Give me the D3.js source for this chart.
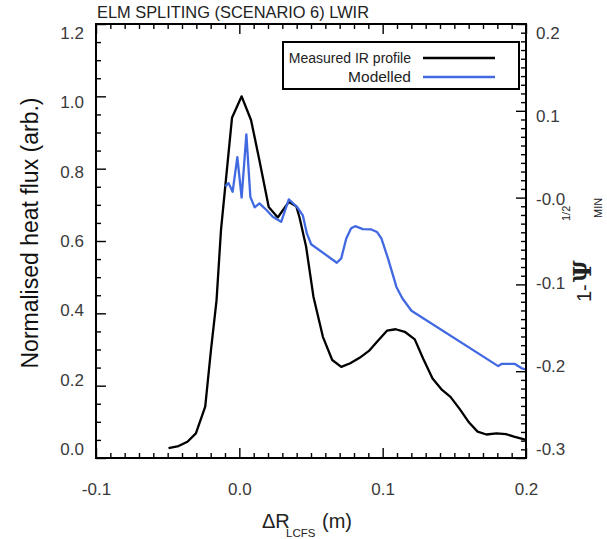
<!DOCTYPE html>
<html><head><meta charset="utf-8">
<script src="https://cdn.jsdelivr.net/npm/d3@7"></script>
<style>
body{margin:0;background:#fff}
svg{display:block}
text{font-family:"Liberation Sans",Arial,Helvetica,sans-serif}
</style>
</head><body>
<svg id="c" width="607" height="539"></svg>
<script>
// ---- data ----
const measuredX = [-0.0494,-0.0424,-0.0362,-0.0303,-0.0238,-0.0198,-0.0159,-0.0128,-0.0051,0.0016,0.0082,0.0140,0.0205,0.0268,0.0345,0.0397,0.0420,0.0466,0.0517,0.0583,0.0648,0.0711,0.0774,0.0839,0.0904,0.0967,0.1030,0.1091,0.1154,0.1224,0.1282,0.1348,0.1410,0.1473,0.1538,0.1603,0.1662,0.1724,0.1795,0.1860,0.1916,0.1981,0.2000];
const measuredY = [0.027,0.033,0.045,0.068,0.142,0.298,0.436,0.630,0.941,1.000,0.934,0.823,0.694,0.665,0.708,0.696,0.665,0.584,0.446,0.335,0.271,0.252,0.262,0.277,0.296,0.324,0.352,0.356,0.349,0.328,0.275,0.220,0.190,0.169,0.135,0.098,0.073,0.065,0.068,0.066,0.059,0.052,0.050];
const modelX = [-0.0098,-0.0075,-0.0047,-0.0014,0.0016,0.0049,0.0077,0.0107,0.0140,0.0191,0.0233,0.0292,0.0345,0.0403,0.0443,0.0471,0.0501,0.0680,0.0711,0.0746,0.0780,0.0808,0.0862,0.0921,0.0960,0.0991,0.1037,0.1096,0.1138,0.1201,0.1806,0.1829,0.1923,0.1970,0.2000];
const modelY = [0.751,0.760,0.736,0.832,0.720,0.895,0.722,0.693,0.704,0.685,0.667,0.653,0.715,0.694,0.671,0.621,0.591,0.540,0.552,0.607,0.635,0.641,0.633,0.632,0.625,0.607,0.552,0.473,0.441,0.407,0.254,0.260,0.260,0.248,0.245];

const xTickValues = [-0.1, 0.0, 0.1, 0.2];
const xTickLabels = ["-0.1", "0.0", "0.1", "0.2"];
const yTickValues = [0.0, 0.2, 0.4, 0.6, 0.8, 1.0, 1.2];
const yTickLabels = ["0.0", "0.2", "0.4", "0.6", "0.8", "1.0", "1.2"];
const y2TickValues = [-0.3, -0.2, -0.1, 0.0, 0.1, 0.2];
const y2TickLabels = ["-0.3", "-0.2", "-0.1", "-0.0", "0.1", "0.2"];
const seriesNames = ["Measured IR profile", "Modelled"];
const seriesColors = ["#000000", "#4169e1"];

// ---- layout ----
const L = 96, R = 526, T = 24, B = 458;
const svg = d3.select("#c");
const x = d3.scaleLinear().domain([-0.1, 0.2]).range([L, R]);
const y = d3.scaleLinear().domain([0, 1.2]).range([B, T]);
const y2 = d3.scaleLinear().domain([-0.3, 0.2]).range([B, T]);

const minor = (a, b, s, majors) => d3.range(Math.round((b - a) / s) + 1)
  .map(i => +(a + i * s).toFixed(4))
  .filter(v => !majors.some(m => Math.abs(m - v) < 1e-6));

function styleAxis(g) {
  g.select(".domain").remove();
  g.selectAll(".tick line").attr("stroke", "#000").attr("stroke-width", 1.4);
  g.selectAll(".tick text").attr("fill", "#3a3a3a").style("font-size", "17px")
    .style("font-family", '"Liberation Sans",Arial,Helvetica,sans-serif');
}

// minor ticks
svg.append("g").attr("transform", `translate(0,${B})`)
  .call(d3.axisBottom(x).tickValues(minor(-0.1, 0.2, 0.01, xTickValues)).tickSize(-5).tickFormat(""))
  .call(styleAxis);
svg.append("g").attr("transform", `translate(0,${T})`)
  .call(d3.axisTop(x).tickValues(minor(-0.1, 0.2, 0.01, xTickValues)).tickSize(-5).tickFormat(""))
  .call(styleAxis);
svg.append("g").attr("transform", `translate(${L},0)`)
  .call(d3.axisLeft(y).tickValues(minor(0, 1.2, 0.05, yTickValues)).tickSize(-5).tickFormat(""))
  .call(styleAxis);
svg.append("g").attr("transform", `translate(${R},0)`)
  .call(d3.axisRight(y2).tickValues(minor(-0.3, 0.2, 0.01, y2TickValues)).tickSize(-5).tickFormat(""))
  .call(styleAxis);

// major ticks + labels
const cy = (T + B) / 2;
svg.append("g").attr("transform", `translate(0,${B})`)
  .call(d3.axisBottom(x).tickValues(xTickValues).tickSizeInner(-10).tickSizeOuter(0).tickPadding(25)
    .tickFormat((d, i) => xTickLabels[i]))
  .call(styleAxis);
svg.append("g").attr("transform", `translate(0,${T})`)
  .call(d3.axisTop(x).tickValues(xTickValues).tickSizeInner(-10).tickSizeOuter(0).tickFormat(""))
  .call(styleAxis);
svg.append("g").attr("transform", `translate(${L},0)`)
  .call(d3.axisLeft(y).tickValues(yTickValues).tickSizeInner(-10).tickSizeOuter(0).tickPadding(12)
    .tickFormat((d, i) => yTickLabels[i]))
  .call(styleAxis)
  .call(g => g.selectAll(".tick text").attr("transform", d => `translate(0,${(cy - y(d)) * 0.04})`));
svg.append("g").attr("transform", `translate(${R},0)`)
  .call(d3.axisRight(y2).tickValues(y2TickValues).tickSizeInner(-10).tickSizeOuter(0).tickPadding(10)
    .tickFormat((d, i) => y2TickLabels[i]))
  .call(styleAxis)
  .call(g => g.selectAll(".tick text").attr("transform", d => `translate(0,${(cy - y2(d)) * 0.04})`));

// clip + curves
svg.append("clipPath").attr("id", "clip").append("rect")
  .attr("x", L).attr("y", T).attr("width", R - L).attr("height", B - T);
const line = d3.line().x(d => x(d[0])).y(d => y(d[1]));
const plot = svg.append("g").attr("clip-path", "url(#clip)");
plot.append("path").datum(measuredX.map((v, i) => [v, measuredY[i]]))
  .attr("d", line).attr("fill", "none").attr("stroke", seriesColors[0]).attr("stroke-width", 2.3)
  .attr("stroke-linejoin", "round");
plot.append("path").datum(modelX.map((v, i) => [v, modelY[i]]))
  .attr("d", line).attr("fill", "none").attr("stroke", seriesColors[1]).attr("stroke-width", 2.3)
  .attr("stroke-linejoin", "round");

// frame
svg.append("rect").attr("x", L).attr("y", T).attr("width", R - L).attr("height", B - T)
  .attr("fill", "none").attr("stroke", "#000").attr("stroke-width", 2);

// title
svg.append("text").attr("x", 97).attr("y", 18).attr("fill", "#222").style("font-size", "16.4px")
  .text("ELM SPLITING (SCENARIO 6) LWIR");

// legend
const lg = svg.append("g");
lg.append("rect").attr("x", 283).attr("y", 42).attr("width", 236).attr("height", 47)
  .attr("fill", "#fff").attr("stroke", "#000").attr("stroke-width", 2);
const legY = [58, 77], legF = [14, 15.5];
seriesNames.forEach((n, i) => {
  lg.append("text").attr("x", 411).attr("y", legY[i] + 5).attr("text-anchor", "end")
    .attr("fill", "#222").style("font-size", legF[i] + "px").text(n);
  lg.append("line").attr("x1", 423).attr("x2", 495).attr("y1", legY[i]).attr("y2", legY[i])
    .attr("stroke", seriesColors[i]).attr("stroke-width", 2.3);
});

// axis titles
svg.append("text").attr("transform", "translate(38,233) rotate(-90)").attr("text-anchor", "middle")
  .attr("fill", "#111").style("font-size", "23px").text("Normalised heat flux (arb.)");

const xt = svg.append("g").attr("fill", "#222");
xt.append("text").attr("x", 262).attr("y", 528).style("font-size", "20px").text("\u0394R");
xt.append("text").attr("x", 286).attr("y", 537).style("font-size", "11.5px").text("LCFS");
xt.append("text").attr("x", 322).attr("y", 528).style("font-size", "20px").text("(m)");

const yt = svg.append("g").attr("fill", "#222");
const t1 = yt.append("text").attr("transform", "translate(591,302) rotate(-90)").style("font-size", "20px");
t1.append("tspan").text("1-");
t1.append("tspan").attr("dx", 2).style("font-family", '"DejaVu Serif",serif').style("font-weight", "bold")
  .style("font-size", "24px").text("\u03A8");
yt.append("text").attr("transform", "translate(570,221) rotate(-90)").style("font-size", "11px").text("1/2");
yt.append("text").attr("transform", "translate(602,218) rotate(-90)").style("font-size", "11px").text("MIN");
</script>
</body></html>
